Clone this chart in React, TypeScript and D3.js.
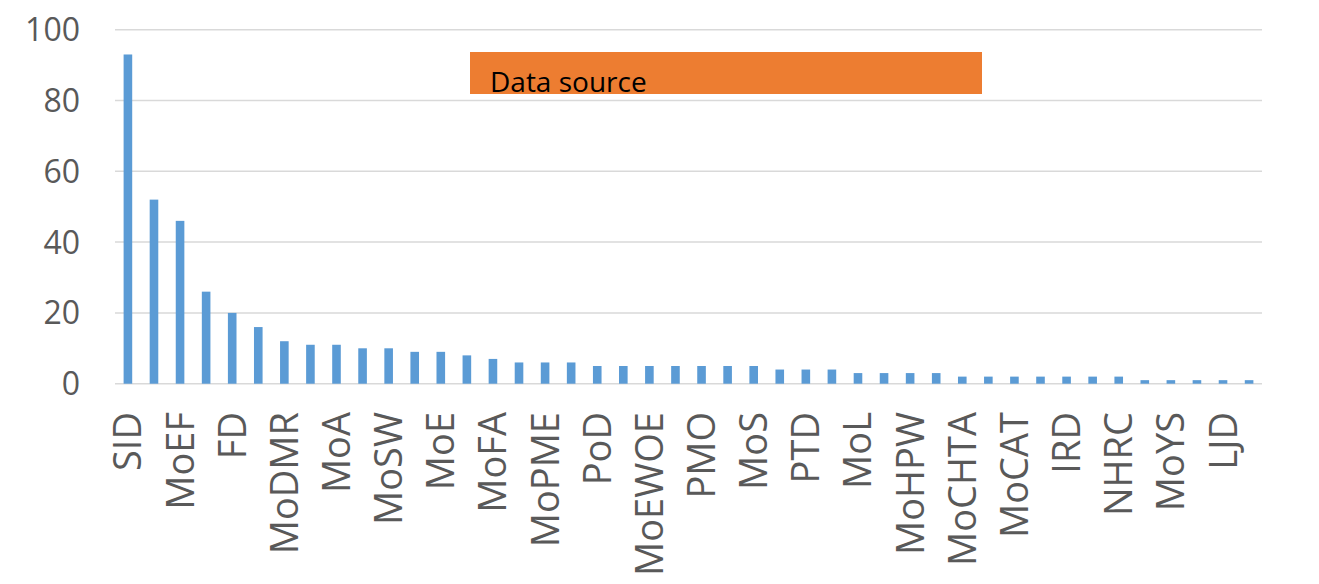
import React from 'react';
import * as d3 from 'd3';

// categories in order, only every other one gets a visible label (like the original)
const categories = [
  'SID', 'MoHA', 'MoEF', 'MoLJPA', 'FD', 'MoPA', 'MoDMR', 'MoF', 'MoA', 'MoH',
  'MoSW', 'MoC', 'MoE', 'MoI', 'MoFA', 'MoWCA', 'MoPME', 'MoRA', 'PoD', 'MoST',
  'MoEWOE', 'MoP', 'PMO', 'MoWR', 'MoS', 'MoRTB', 'PTD', 'MoLE', 'MoL', 'MoInd',
  'MoHPW', 'MoT', 'MoCHTA', 'MoPEMR', 'MoCAT', 'MoCA', 'IRD', 'MoLGRD', 'NHRC', 'MoFL',
  'MoYS', 'ERD', 'LJD', 'BBS',
];
const counts = [
  93, 52, 46, 26, 20, 16, 12, 11, 11, 10,
  10, 9, 9, 8, 7, 6, 6, 6, 5, 5,
  5, 5, 5, 5, 5, 4, 4, 4, 3, 3,
  3, 3, 2, 2, 2, 2, 2, 2, 2, 1,
  1, 1, 1, 1,
];
const yTicks = [0, 20, 40, 60, 80, 100];
const legendLabel = 'Data source';

const W = 1319;
const H = 584;
const left = 115;
const right = 1262;
const top = 29.7;
const bottom = 383.7;

export default function App() {
  const x = d3.scaleBand<string>().domain(categories).range([left, right]).paddingInner(0.67).paddingOuter(0.33);
  const y = d3.scaleLinear().domain([0, 100]).range([bottom, top]);

  return (
    <svg width={W} height={H} style={{ position: 'absolute', left: 0, top: 0, background: '#fff' }}
      fontFamily="'Open Sans', sans-serif">
      {yTicks.map(t => (
        <g key={t}>
          <line x1={left} x2={right} y1={y(t)} y2={y(t)} stroke="#d9d9d9" strokeWidth={1.5} />
          <text x={80} y={y(t)} dy="0.36em" textAnchor="end" fontSize={32} fill="#595959">{t}</text>
        </g>
      ))}
      {categories.map((c, i) => (
        <rect key={c} x={x(c)} y={y(counts[i])} width={x.bandwidth()} height={y(0) - y(counts[i])} fill="#5b9bd5" />
      ))}
      {categories.map((c, i) => i % 2 === 0 && (
        <text key={c} fontSize={38} fill="#595959" textAnchor="end"
          transform={`translate(${(x(c) ?? 0) + x.bandwidth() / 2 + 13.5},412) rotate(-90)`}>{c}</text>
      ))}
      <rect x={470} y={52} width={512} height={42} fill="#ed7d31" />
      <text x={490} y={92} fontSize={28} fill="#000">{legendLabel}</text>
    </svg>
  );
}
